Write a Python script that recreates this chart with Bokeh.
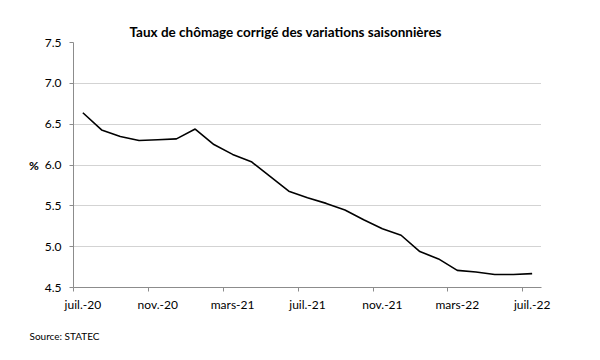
from bokeh.plotting import figure
from bokeh.models import FixedTicker, Title, Range1d
from bokeh.embed import file_html
from bokeh.resources import INLINE

months = ["juil.-20", "août-20", "sept.-20", "oct.-20", "nov.-20", "déc.-20",
          "janv.-21", "févr.-21", "mars-21", "avr.-21", "mai-21", "juin-21",
          "juil.-21", "août-21", "sept.-21", "oct.-21", "nov.-21", "déc.-21",
          "janv.-22", "févr.-22", "mars-22", "avr.-22", "mai-22", "juin-22",
          "juil.-22"]
rate = [6.64, 6.43, 6.35, 6.30, 6.31, 6.32, 6.44, 6.25, 6.13, 6.04, 5.86, 5.68,
        5.60, 5.53, 5.45, 5.33, 5.22, 5.14, 4.94, 4.85, 4.71, 4.69, 4.66, 4.66,
        4.67]
y_ticks = [4.5, 5.0, 5.5, 6.0, 6.5, 7.0, 7.5]
y_tick_labels = ["4.5", "5.0", "5.5", "6.0", "6.5", "7.0", "7.5"]
title_text = "Taux de chômage corrigé des variations saisonnières"
source_text = "Source: STATEC"

x = list(range(len(months)))
label_idx = x[::4]
boundaries = [i - 0.5 for i in label_idx]

FONT = "Lato"
GRAY = "#8c8c8c"

W, H = 584, 354
p = figure(width=W, height=H, output_backend="svg", toolbar_location=None,
           x_range=Range1d(-0.5, len(months) - 0.5), y_range=Range1d(4.5, 7.5),
           min_border_left=73, min_border_right=43, min_border_top=42,
           min_border_bottom=66)
p.outline_line_color = None
p.background_fill_color = "white"
p.border_fill_color = "white"

p.line(x, rate, line_color="black", line_width=1.6)

xa = p.xaxis[0]
xa.ticker = FixedTicker(ticks=label_idx, minor_ticks=boundaries)
xa.major_label_overrides = {i: months[i] for i in label_idx}
xa.major_tick_in = 0
xa.major_tick_out = 0
xa.minor_tick_in = 0
xa.minor_tick_out = 4
xa.minor_tick_line_color = GRAY
xa.axis_line_color = GRAY
xa.major_label_standoff = 5
xa.major_label_text_font = FONT
xa.major_label_text_font_size = "12px"
xa.major_label_text_color = "#000000"

ya = p.yaxis[0]
ya.ticker = FixedTicker(ticks=y_ticks, minor_ticks=[])
ya.major_label_overrides = {t: l for t, l in zip(y_ticks, y_tick_labels)}
ya.major_tick_in = 0
ya.major_tick_out = 4
ya.major_tick_line_color = GRAY
ya.minor_tick_line_color = None
ya.axis_line_color = GRAY
ya.major_label_standoff = 8
ya.major_label_text_font = FONT
ya.major_label_text_font_size = "12px"
ya.major_label_text_color = "#000000"
ya.axis_label = "%"
ya.axis_label_orientation = "horizontal"
ya.axis_label_standoff = 3
ya.axis_label_text_font = FONT
ya.axis_label_text_font_style = "bold"
ya.axis_label_text_font_size = "12px"
ya.axis_label_text_color = "#000000"

p.xgrid.grid_line_color = None
p.ygrid.grid_line_color = "#a6a6a6"
p.ygrid.grid_line_dash = "1 1"
p.ygrid.grid_line_width = 1

p.title = Title(text=title_text, align="left", offset=56, standoff=5,
                text_font=FONT, text_font_style="bold", text_font_size="13.5px",
                text_color="black")
p.add_layout(Title(text=source_text, align="left", offset=-44, standoff=26,
                   text_font=FONT, text_font_style="normal",
                   text_font_size="10px", text_color="black"), "below")

open("out.html", "w").write(file_html(p, INLINE))
